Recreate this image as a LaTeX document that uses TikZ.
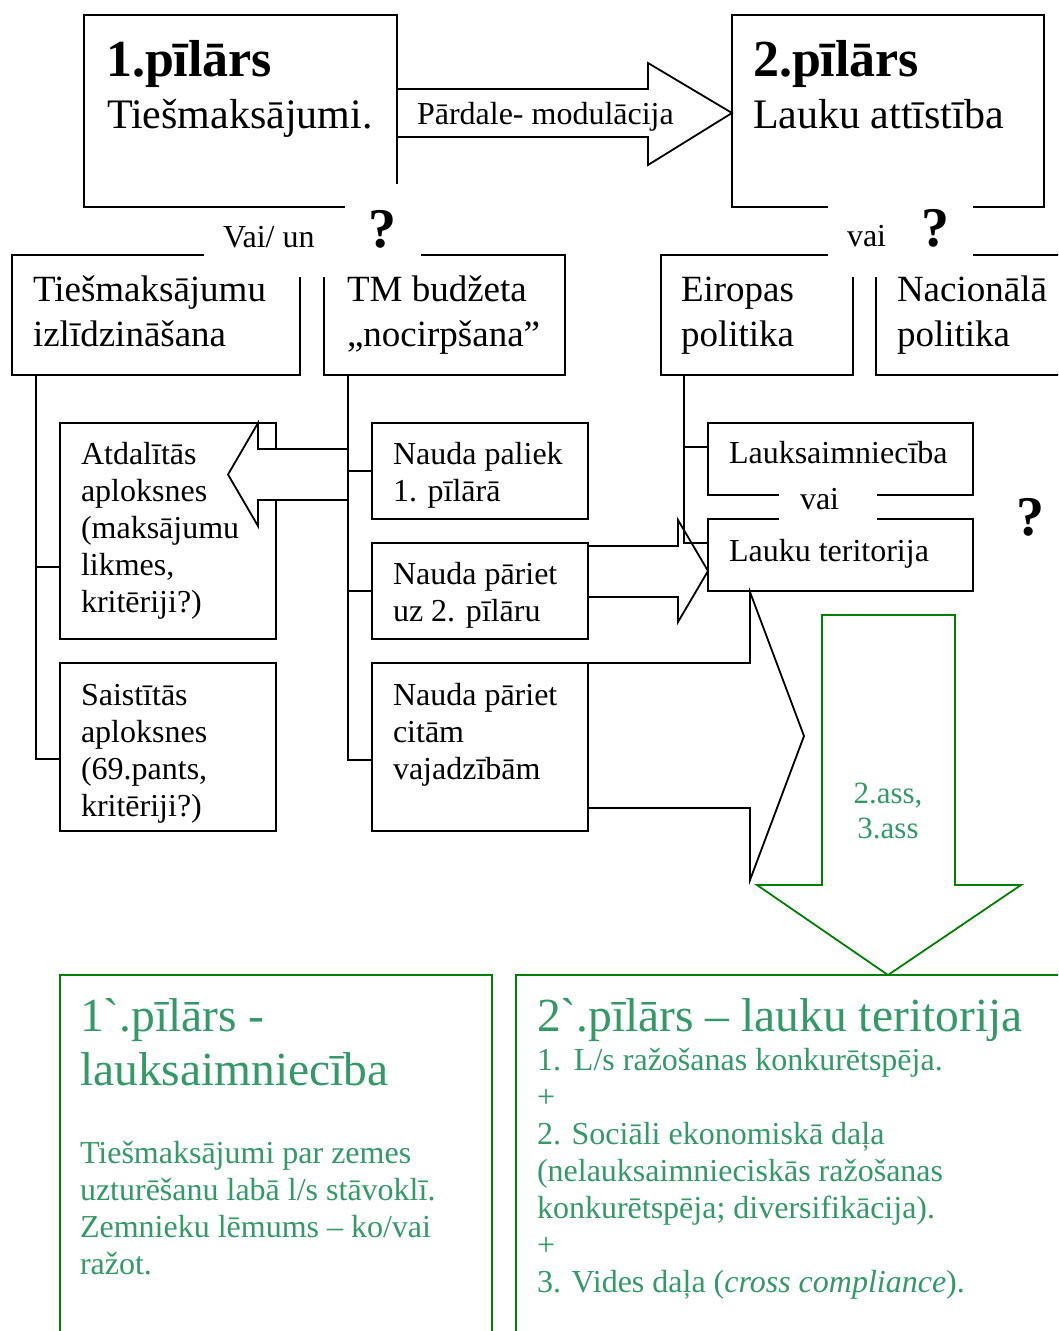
\documentclass[tikz,border=0pt]{standalone}
\usepackage{fontspec}
\setmainfont{Liberation Serif}
\newfontfamily\tnr{Liberation Serif}
\usetikzlibrary{calc}
\definecolor{gline}{RGB}{0,128,0}
\definecolor{gtext}{RGB}{51,153,102}
\newcommand\fs[2]{\fontsize{#1pt}{#2pt}\selectfont}
\newcommand\ml[1]{\begin{tabular}[t]{@{}l@{}}#1\end{tabular}}
\newcommand\mc[1]{\begin{tabular}[t]{@{}c@{}}#1\end{tabular}}
\newcommand\grv{{\tnr\symbol{96}}}
\begin{document}
\begin{tikzpicture}[x=1pt,y=-1pt,
  bx/.style={draw, line width=1.8pt, inner sep=0pt, outer sep=0pt, anchor=north west},
  gbx/.style={bx, draw=gline},
  ln/.style={line width=1.8pt},
  tx/.style={inner sep=0pt, outer sep=0pt, anchor=base west},
  small/.style={font=\fs{32}{37}},
  mid/.style={font=\fs{37}{45}},
  qm/.style={tx, font=\bfseries\fs{56}{60}}]
\path[use as bounding box] (0,0) rectangle (1058,1331);
\clip (0,0) rectangle (1058,1331);
\fill[white] (0,0) rectangle (1058,1331);

% top boxes and transfer arrow
\node[bx, minimum width=313pt, minimum height=192pt] (p1) at (84,15) {};
\node[bx, minimum width=312pt, minimum height=192pt] (p2) at (732,15) {};
\draw[ln, fill=white] (397,89) -- (648,89) -- (648,63) -- (732,113) -- (648,165) -- (648,137) -- (397,137) -- cycle;

% second row boxes
\node[bx, minimum width=288pt, minimum height=120pt] (tl) at (12,255) {};
\node[bx, minimum width=241pt, minimum height=120pt] (tm) at (324,255) {};
\node[bx, minimum width=192pt, minimum height=120pt] (eu) at (661,255) {};
\node[bx, minimum width=220pt, minimum height=120pt] (na) at (876,255) {};

% white label patches
\fill[white] (204,209) rectangle (347,277);
\fill[white] (345,184) rectangle (421,277);
\fill[white] (828,190) rectangle (973,277);

% left column
\node[bx, minimum width=216pt, minimum height=216pt] (at) at (60,423) {};
\node[bx, minimum width=216pt, minimum height=168pt] (sa) at (60,663) {};
\coordinate (tlx) at ([xshift=24pt]tl.south west);
\draw[ln] (tlx) |- ([yshift=-12pt]sa.west);
\draw[ln] ([yshift=-36pt]at.west) -- ([yshift=-36pt]at.west -| tlx);

% TM column
\node[bx, minimum width=216pt, minimum height=96pt] (n1) at (372,423) {};
\node[bx, minimum width=216pt, minimum height=96pt] (n2) at (372,543) {};
\node[bx, minimum width=216pt, minimum height=168pt] (n3) at (372,663) {};
\coordinate (tmx) at ([xshift=24pt]tm.south west);
\draw[ln] (tmx) |- ([yshift=-13pt]n3.west);
\draw[ln] (tmx |- n1.west) -- (n1.west);
\draw[ln] (tmx |- n2.west) -- (n2.west);
\draw[ln, fill=white] (348,449) -- (258,449) -- (258,423) -- (228,474.5) -- (258,526) -- (258,500) -- (348,500) -- cycle;

% right column
\draw[ln, fill=white] (588,546) -- (678,546) -- (678,520) -- (708,571) -- (678,622) -- (678,597) -- (588,597) -- cycle;
\node[bx, minimum width=265pt, minimum height=72pt] (ls) at (708,423) {};
\node[bx, minimum width=265pt, minimum height=72pt] (lt) at (708,519) {};
\coordinate (eux) at ([xshift=23pt]eu.south west);
\coordinate (lsb) at ([yshift=12pt]ls.west);
\draw[ln] (eux) |- ([yshift=12pt]lt.west);
\draw[ln] (eux |- lsb) -- (lsb);
\fill[white] (779,484) rectangle (877,521);

% big black arrow
\draw[ln, fill=white] (588,663) -- (750,663) -- (750,592) -- (804,736) -- (750,880) -- (750,808) -- (588,808) -- cycle;

% green arrow and bottom boxes
\draw[ln, draw=gline] (822,615) -- (955,615) -- (955,885) -- (1021,885) -- (888,975) -- (757,885) -- (822,885) -- cycle;
\node[gbx, minimum width=432pt, minimum height=420pt] (g1) at (60,975) {};
\node[gbx, minimum width=560pt, minimum height=420pt] (g2) at (516,975) {};

% texts
\node[tx, font=\bfseries\fs{52}{52}] (t1a) at (106,76) {1.pīlārs};
\node[tx, font=\fs{42}{42}] (t1b) at (107,128) {Tiešmaksājumi.};
\node[tx, font=\bfseries\fs{52}{52}] (t2a) at (753,76) {2.pīlārs};
\node[tx, font=\fs{42}{42}] (t2b) at (753,128) {Lauku attīstība};
\node[tx, small] (tpm) at (417,124) {Pārdale- modulācija};

\node[tx, small] (lvu) at (223,247) {Vai/ un};
\node[qm] (q1) at (368,247) {?};
\node[tx, small] (lvai) at (847,246) {vai};
\node[qm] (q2) at (921,246) {?};

\node[tx, mid] (ttl) at (33,301) {\ml{Tiešmaksājumu\\izlīdzināšana}};
\node[tx, mid] (ttm) at (347,301) {\ml{TM budžeta\\„nocirpšana”}};
\node[tx, mid] (teu) at (681,301) {\ml{Eiropas\\politika}};
\node[tx, mid] (tna) at (897,301) {\ml{Nacionālā\\politika}};

\node[tx, small] (tat) at (81,464) {\ml{Atdalītās\\aploksnes\\(maksājumu\\likmes,\\kritēriji?)}};
\node[tx, small] (tsa) at (81,705) {\ml{Saistītās\\aploksnes\\(69.pants,\\kritēriji?)}};
\node[tx, small] (tn1) at (393,464) {\ml{Nauda paliek\\1. pīlārā}};
\node[tx, small] (tn2) at (393,584) {\ml{Nauda pāriet\\uz 2. pīlāru}};
\node[tx, small] (tn3) at (393,705) {\ml{Nauda pāriet\\citām\\vajadzībām}};

\node[tx, small] (tls) at (729,463) {Lauksaimniecība};
\node[tx, small] (tlt) at (729,561) {Lauku teritorija};
\node[tx, small] (tvai) at (800,509) {vai};
\node[qm] (q3) at (1016,535) {?};

\node[inner sep=0pt, anchor=base, text=gtext, font=\fs{31}{35}] (tass) at (888,803) {\mc{2.ass,\\3.ass}};

\node[tx, text=gtext, font=\fs{47.5}{54}] (tg1a) at (80,1031) {\ml{1\grv.pīlārs -\\lauksaimniecība}};
\node[tx, text=gtext, small] (tg1b) at (80,1163) {\ml{Tiešmaksājumi par zemes\\uzturēšanu labā l/s stāvoklī.\\Zemnieku lēmums – ko/vai\\ražot.}};
\node[tx, text=gtext, font=\fs{47.5}{54}] (tg2a) at (537,1031) {2\grv.pīlārs – lauku teritorija};
\node[tx, text=gtext, small] (tg2b) at (537,1070) {\ml{1.\hspace{13pt}L/s ražošanas konkurētspēja.\\+\\2. Sociāli ekonomiskā daļa\\(nelauksaimnieciskās ražošanas\\konkurētspēja; diversifikācija).\\+\\3. Vides daļa (\textit{cross compliance}).}};
\end{tikzpicture}
\end{document}
